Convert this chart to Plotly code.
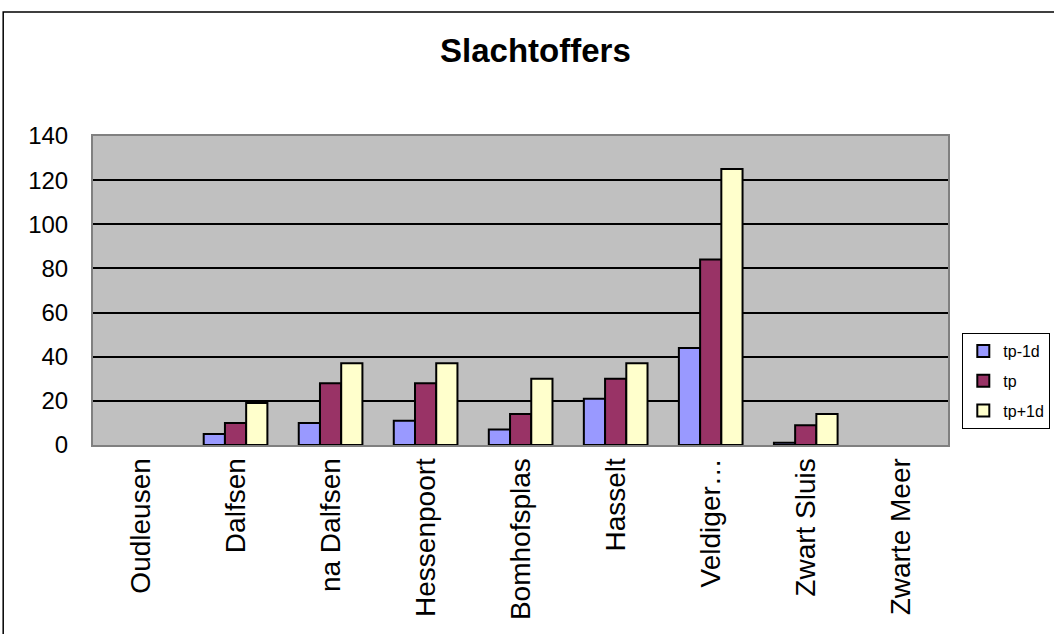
import plotly.graph_objects as go

categories = ["Oudleusen", "Dalfsen", "na Dalfsen", "Hessenpoort", "Bomhofsplas",
              "Hasselt", "Veldiger…", "Zwart Sluis", "Zwarte Meer"]
# stations without casualties are left empty
tp_min1d = [None, 5, 10, 11, 7, 21, 44, 1, None]
tp = [None, 10, 28, 28, 14, 30, 84, 9, None]
tp_plus1d = [None, 19, 37, 37, 30, 37, 125, 14, None]

series = [
    ("tp-1d", tp_min1d, "#9999FF"),
    ("tp", tp, "#993366"),
    ("tp+1d", tp_plus1d, "#FFFFCC"),
]

FONT = "Liberation Sans, Arial, sans-serif"

fig = go.Figure()
for name, vals, color in series:
    fig.add_trace(go.Bar(
        x=categories, y=vals, name=name, legendgroup=name,
        marker=dict(color=color, line=dict(color="black", width=2)),
    ))

fig.update_layout(
    width=1054, height=634,
    margin=dict(l=93, r=104, t=136, b=189),
    paper_bgcolor="white",
    plot_bgcolor="#C0C0C0",
    barmode="group",
    bargap=0.33,
    bargroupgap=0,
    title=dict(text="<b>Slachtoffers</b>", x=0.508, xanchor="center",
               y=0.921, yanchor="middle",
               font=dict(family=FONT, size=33, color="black")),
    font=dict(family=FONT, color="black"),
    showlegend=True,
    legend=dict(
        xref="container", yref="container",
        x=0.913, xanchor="left", y=0.4748, yanchor="top",
        bgcolor="white", bordercolor="black", borderwidth=1,
        font=dict(family=FONT, size=16, color="black"),
        traceorder="grouped", tracegroupgap=6,
        itemwidth=30,
    ),
    xaxis=dict(
        tickangle=-90, tickfont=dict(family=FONT, size=28, color="black"),
        showline=True, linecolor="#808080", linewidth=2, mirror=True,
        ticks="", showgrid=False,
    ),
    yaxis=dict(
        range=[0, 140], dtick=20,
        tickfont=dict(family=FONT, size=24, color="black"),
        ticklabelstandoff=18,
        showgrid=True, gridcolor="black", gridwidth=1.5,
        showline=True, linecolor="#808080", linewidth=2, mirror=True,
        zeroline=False, ticks="", ticklen=0,
    ),
    shapes=[dict(type="rect", xref="paper", yref="paper",
                 x0=-0.105, x1=1.3, y0=-1.0, y1=1.401,
                 line=dict(color="black", width=1.5), fillcolor="rgba(0,0,0,0)",
                 layer="below")],
)

fig.write_html("out.html")
